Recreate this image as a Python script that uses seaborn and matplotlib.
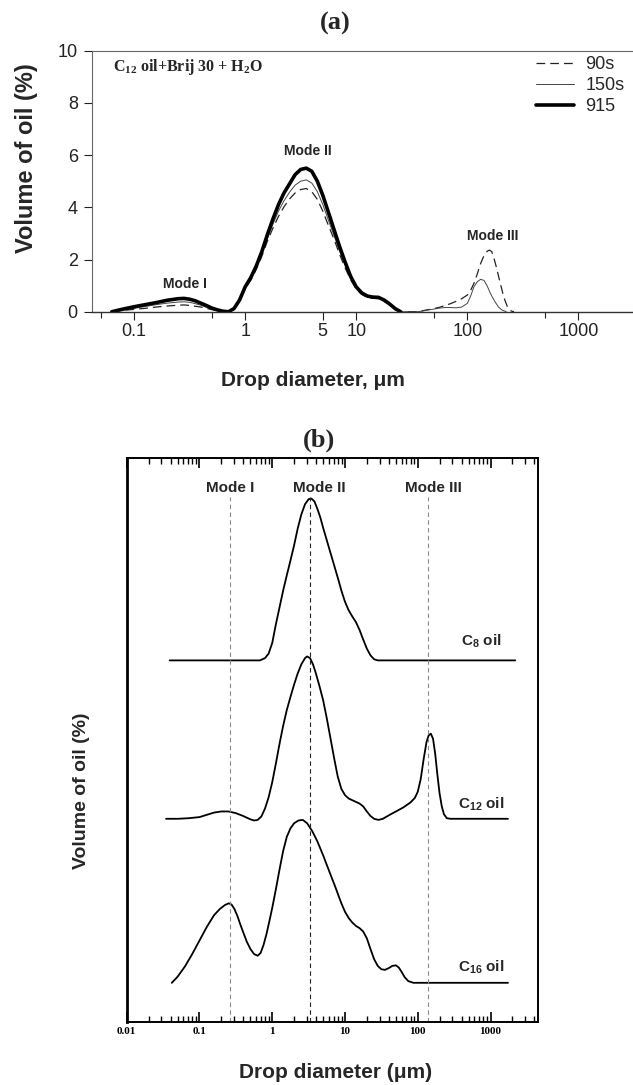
import numpy as np
import pandas as pd
import matplotlib
matplotlib.use("Agg")
import matplotlib.pyplot as plt
import seaborn as sns
from matplotlib.ticker import FixedLocator, FixedFormatter, NullFormatter, LogLocator

sns.set_theme(style="ticks")
plt.rcParams["font.family"] = ["Liberation Sans", "DejaVu Sans"]
plt.rcParams["mathtext.default"] = "regular"

# ---------------- Panel (a) data: log10(diameter, um) and volume (%) ----------------
logd_915 = [-1.2, -1.1, -1.0, -0.9, -0.8, -0.7, -0.6, -0.55, -0.5, -0.45, -0.4, -0.35, -0.3, -0.25,
            -0.2, -0.15, -0.1, -0.05,
            0.0, 0.05, 0.1, 0.15, 0.2, 0.25, 0.3, 0.35, 0.4, 0.45, 0.5, 0.55, 0.6, 0.65, 0.7, 0.75,
            0.8, 0.85, 0.9, 0.95, 1.0, 1.05, 1.1, 1.15, 1.2, 1.25, 1.3, 1.35, 1.4]
vol_915 = [0.0, 0.1, 0.19, 0.27, 0.35, 0.44, 0.5, 0.51, 0.48, 0.42, 0.33, 0.24, 0.14, 0.07,
           0.02, 0.0, 0.12, 0.45,
           0.95, 1.3, 1.75, 2.3, 2.95, 3.55, 4.1, 4.55, 4.9, 5.25, 5.45, 5.5, 5.38, 5.0, 4.45, 3.8,
           3.15, 2.5, 1.9, 1.35, 0.95, 0.72, 0.6, 0.56, 0.55, 0.45, 0.3, 0.12, 0.0]

logd_150 = [-1.2, -1.1, -1.0, -0.9, -0.8, -0.7, -0.6, -0.55, -0.5, -0.45, -0.4, -0.35, -0.3, -0.25,
            -0.2, -0.15, -0.1, -0.05,
            0.0, 0.05, 0.1, 0.15, 0.2, 0.25, 0.3, 0.35, 0.4, 0.45, 0.5, 0.55, 0.6, 0.65, 0.7, 0.75,
            0.8, 0.85, 0.9, 0.95, 1.0, 1.05, 1.1, 1.15, 1.2, 1.25, 1.3, 1.35, 1.4,
            1.5, 1.56, 1.6, 1.65, 1.7, 1.75, 1.8, 1.85, 1.9, 1.95, 2.0, 2.03, 2.06, 2.09, 2.12,
            2.15, 2.18, 2.2, 2.22, 2.25, 2.28, 2.31, 2.35]
vol_150 = [0.0, 0.07, 0.13, 0.2, 0.27, 0.33, 0.37, 0.38, 0.36, 0.31, 0.25, 0.17, 0.1, 0.05,
           0.01, 0.0, 0.1, 0.42,
           0.9, 1.25, 1.68, 2.2, 2.8, 3.35, 3.85, 4.25, 4.58, 4.85, 5.0, 5.05, 4.93, 4.6, 4.1, 3.5,
           2.92, 2.33, 1.78, 1.28, 0.9, 0.68, 0.57, 0.53, 0.52, 0.42, 0.28, 0.1, 0.0,
           0.0, 0.0, 0.03, 0.07, 0.1, 0.14, 0.16, 0.16, 0.15, 0.18, 0.32, 0.6, 0.96, 1.15, 1.24,
           1.2, 0.98, 0.78, 0.6, 0.38, 0.18, 0.07, 0.0]

logd_90 = [-1.2, -1.1, -1.0, -0.9, -0.8, -0.7, -0.6, -0.55, -0.5, -0.45, -0.4, -0.35, -0.3, -0.25,
           -0.2, -0.15, -0.1, -0.05,
           0.0, 0.05, 0.1, 0.15, 0.2, 0.25, 0.3, 0.35, 0.4, 0.45, 0.5, 0.55, 0.6, 0.65, 0.7, 0.75,
           0.8, 0.85, 0.9, 0.95, 1.0, 1.05, 1.1, 1.15, 1.2, 1.25, 1.3, 1.35, 1.4,
           1.5, 1.56, 1.6, 1.65, 1.7, 1.75, 1.8, 1.85, 1.9, 1.95, 2.0, 2.03, 2.06, 2.09, 2.12,
           2.15, 2.18, 2.2, 2.22, 2.24, 2.26, 2.28, 2.3, 2.32, 2.34, 2.36, 2.38, 2.4, 2.42]
vol_90 = [0.0, 0.05, 0.09, 0.13, 0.18, 0.22, 0.25, 0.26, 0.24, 0.21, 0.18, 0.13, 0.08, 0.04,
          0.01, 0.0, 0.1, 0.4,
          0.88, 1.2, 1.62, 2.12, 2.7, 3.2, 3.65, 4.02, 4.32, 4.55, 4.68, 4.72, 4.6, 4.3, 3.85, 3.3,
          2.78, 2.2, 1.68, 1.22, 0.87, 0.66, 0.55, 0.51, 0.5, 0.4, 0.27, 0.09, 0.0,
          0.0, 0.0, 0.04, 0.08, 0.12, 0.17, 0.24, 0.31, 0.4, 0.5, 0.64, 0.82, 1.09, 1.45, 1.85,
          2.15, 2.32, 2.36, 2.3, 2.05, 1.73, 1.38, 1.03, 0.7, 0.42, 0.2, 0.07, 0.02, 0.0]

series_a = ["90s", "150s", "915"]
ticks_a = [0.1, 1, 5, 10, 100, 1000]
ticklabels_a = ["0.1", "1", "5", "10", "100", "1000"]
minor_ticks_a = [0.05, 0.5, 50, 500]

# ---------------- Panel (b) data: log10(diameter, um) and offset volume (a.u.) ----------------
logd_c8 = [-1.41, -1.0, -0.5, -0.17, -0.1, -0.05, 0.0, 0.05, 0.1, 0.15, 0.2, 0.25, 0.3, 0.35,
           0.4, 0.45, 0.5, 0.54, 0.58, 0.62, 0.66, 0.7, 0.75, 0.8, 0.85, 0.9, 0.95, 1.0, 1.05,
           1.1, 1.15, 1.2, 1.25, 1.3, 1.35, 1.4, 1.45, 2.0, 3.34]
vol_c8 = [64.1, 64.1, 64.1, 64.1, 64.5, 65.3, 67.2, 70.5, 73.5, 76.5, 79.2, 81.8, 84.5, 87.5,
          90.0, 91.8, 92.7, 92.8, 92.3, 91.0, 89.5, 87.6, 85.4, 83.2, 81.0, 78.8, 76.5, 74.5, 73.0,
          71.9, 70.9, 69.5, 67.8, 66.2, 65.0, 64.3, 64.1, 64.1, 64.1]

logd_c12 = [-1.46, -1.3, -1.15, -1.0, -0.9, -0.8, -0.7, -0.6, -0.5, -0.4, -0.3, -0.25, -0.2,
            -0.15, -0.1, -0.05, 0.0, 0.05, 0.1, 0.15, 0.2, 0.25, 0.3, 0.35, 0.4, 0.45, 0.48,
            0.52, 0.56, 0.6, 0.65, 0.7, 0.75, 0.8, 0.85, 0.9, 0.95, 1.0, 1.05, 1.1, 1.15, 1.2,
            1.25, 1.3, 1.35, 1.4, 1.46, 1.52, 1.6, 1.7, 1.8, 1.9, 1.96, 2.0, 2.04, 2.08, 2.12,
            2.15, 2.18, 2.21, 2.24, 2.27, 2.3, 2.33, 2.36, 2.4, 2.45, 3.24]
vol_c12 = [36.0, 36.0, 36.1, 36.3, 36.7, 37.1, 37.3, 37.3, 37.0, 36.5, 35.9, 35.7, 35.8,
           36.4, 37.8, 39.8, 42.5, 45.8, 49.3, 52.5, 55.3, 57.6, 59.8, 61.8, 63.4, 64.5, 64.8,
           64.5, 63.4, 61.8, 59.5, 57.0, 53.8, 50.3, 46.8, 43.5, 41.3, 40.2, 39.6, 39.3, 39.0, 38.7,
           38.2, 37.3, 36.5, 36.0, 35.8, 36.0, 36.6, 37.3, 38.0, 38.9, 39.7, 40.8, 43.0, 46.5, 49.6,
           50.8, 51.1, 50.2, 47.5, 43.8, 40.5, 38.2, 36.8, 36.1, 36.0, 36.0]

logd_c16 = [-1.38, -1.3, -1.2, -1.1, -1.0, -0.9, -0.8, -0.72, -0.65, -0.6, -0.56, -0.52, -0.48,
            -0.44, -0.4, -0.35, -0.3, -0.25, -0.2, -0.16, -0.12, -0.08, -0.04, 0.0, 0.05, 0.1,
            0.15, 0.2, 0.25, 0.3, 0.36, 0.42, 0.48, 0.55, 0.62, 0.7, 0.78, 0.87, 0.95, 1.0, 1.05,
            1.1, 1.15, 1.2, 1.25, 1.3, 1.35, 1.4, 1.45, 1.5, 1.55, 1.6, 1.65, 1.7, 1.74, 1.78,
            1.82, 1.87, 1.94, 3.24]
vol_c16 = [6.9, 8.0, 9.8, 12.0, 14.4, 16.8, 18.9, 20.0, 20.7, 21.0, 20.8, 20.0, 18.8,
           17.3, 15.9, 14.2, 12.9, 12.0, 11.7, 12.2, 13.6, 15.5, 17.8, 20.2, 23.5, 27.0,
           30.3, 32.8, 34.3, 35.2, 35.7, 35.8, 35.2, 33.8, 32.0, 29.5, 26.8, 23.8, 21.0, 19.5, 18.4,
           17.6, 17.0, 16.6, 16.0, 14.8, 12.9, 11.1, 9.9, 9.3, 9.2, 9.5, 9.9, 10.0, 9.6, 8.8,
           7.9, 7.2, 6.9, 6.9]

oils_b = ["C$_8$ oil", "C$_{12}$ oil", "C$_{16}$ oil"]
mode_names = ["Mode I", "Mode II", "Mode III"]
mode_pos_b = [0.26, 3.28, 140]
ticks_b = [0.01, 0.1, 1, 10, 100, 1000]
ticklabels_b = ["0.01", "0.1", "1", "10", "100", "1000"]


def frame(logd, vol):
    return pd.DataFrame({"d": 10 ** np.asarray(logd, float), "v": np.asarray(vol, float)})


fig = plt.figure(figsize=(6.33, 10.85), dpi=100)

# ================= Panel (a) =================
axA = fig.add_axes([0.1449, 0.7127, 0.8551, 0.2406])
axA.set_xscale("log")
sns.lineplot(data=frame(logd_90, vol_90), x="d", y="v", ax=axA, sort=False, estimator=None,
             color="#222222", lw=0.9, linestyle=(0, (7, 4)), label=series_a[0])
sns.lineplot(data=frame(logd_150, vol_150), x="d", y="v", ax=axA, sort=False, estimator=None,
             color="#444444", lw=0.7, label=series_a[1])
sns.lineplot(data=frame(logd_915, vol_915), x="d", y="v", ax=axA, sort=False, estimator=None,
             color="black", lw=2.6, label=series_a[2])

axA.set_xlim(0.0416, 3100)
axA.set_ylim(0, 10)
axA.set_yticks([0, 2, 4, 6, 8, 10])
axA.xaxis.set_major_locator(FixedLocator(ticks_a))
axA.xaxis.set_major_formatter(FixedFormatter(ticklabels_a))
axA.xaxis.set_minor_locator(FixedLocator(minor_ticks_a))
axA.xaxis.set_minor_formatter(NullFormatter())
axA.tick_params(axis="both", which="major", labelsize=13, colors="#222222", width=0.8)
axA.tick_params(axis="x", which="major", length=6, pad=2)
axA.tick_params(axis="x", which="minor", length=4, width=0.8, colors="#222222")
axA.tick_params(axis="y", which="major", length=6, pad=4)
for s in ["left", "top"]:
    axA.spines[s].set_color("#666666")
    axA.spines[s].set_linewidth(0.8)
axA.spines["bottom"].set_color("#333333")
axA.spines["bottom"].set_linewidth(1.0)
axA.spines["right"].set_visible(False)

axA.set_xlabel("Drop diameter, μm", fontsize=15, fontweight="bold")
axA.xaxis.label.set_va("center")
axA.xaxis.set_label_coords(0.409, -0.262)
axA.set_ylabel("Volume of oil (%)", fontsize=17, fontweight="bold")
axA.yaxis.label.set_va("center")
axA.yaxis.set_label_coords(-0.121, 0.587)

axA.text(0.285, 1.06, "Mode I", fontsize=10, fontweight="bold", ha="center", va="center")
axA.text(3.68, 6.15, "Mode II", fontsize=10, fontweight="bold", ha="center", va="center")
axA.text(170, 2.9, "Mode III", fontsize=10, fontweight="bold", ha="center", va="center")
axA.text(0.039, 0.939, "C$_{12}$ oil+Brij 30 + H$_2$O", transform=axA.transAxes,
         family=["Liberation Serif", "DejaVu Serif"], fontsize=11.5, fontweight="bold",
         ha="left", va="center")
axA.text(0.449, 1.106, "(a)", transform=axA.transAxes, family=["Liberation Serif", "DejaVu Serif"],
         fontsize=19, fontweight="bold", ha="center", va="center")

axA.legend(loc="upper right", bbox_to_anchor=(0.984, 0.978), frameon=False, fontsize=13,
           handlelength=2.1, handletextpad=0.6, labelspacing=0.22, borderpad=0, borderaxespad=0)

# ================= Panel (b) =================
axB = fig.add_axes([0.2002, 0.05834, 0.6493, 0.5195])
axB.set_xscale("log")
for logd, vol in [(logd_c8, vol_c8), (logd_c12, vol_c12), (logd_c16, vol_c16)]:
    sns.lineplot(data=frame(logd, vol), x="d", y="v", ax=axB, sort=False, estimator=None,
                 color="black", lw=1.3)

axB.vlines(mode_pos_b, 0, 93.0, colors=["#8a8a8a", "#222222", "#8a8a8a"],
           linestyles=[(0, (4, 3))] * 3, lw=0.8)

axB.set_xlim(0.01, 4456)
axB.set_ylim(0, 100)
axB.set_yticks([])
axB.xaxis.set_major_locator(FixedLocator(ticks_b))
axB.xaxis.set_major_formatter(FixedFormatter(ticklabels_b))
axB.xaxis.set_minor_locator(LogLocator(base=10, subs=np.arange(2, 10), numticks=40))
axB.xaxis.set_minor_formatter(NullFormatter())
axB.tick_params(axis="x", which="both", direction="in", top=True, bottom=True, colors="black")
axB.tick_params(axis="x", which="major", length=7, width=1.2, pad=4)
axB.tick_params(axis="x", which="minor", length=4, width=1.0)
for lab in axB.get_xticklabels():
    lab.set_family(["Liberation Serif", "DejaVu Serif"])
    lab.set_fontweight("bold")
    lab.set_fontsize(8)
for s in ["left", "right", "top", "bottom"]:
    axB.spines[s].set_color("black")
    axB.spines[s].set_linewidth(1.4)
axB.spines["left"].set_linewidth(2.0)

axB.set_xlabel("Drop diameter (μm)", fontsize=15, fontweight="bold")
axB.xaxis.label.set_va("center")
axB.xaxis.set_label_coords(0.508, -0.091)
axB.set_ylabel("Volume of oil (%)", fontsize=14, fontweight="bold")
axB.yaxis.label.set_va("center")
axB.yaxis.set_label_coords(-0.1095, 0.41)

for name, xp in zip(mode_names, [0.268, 4.45, 165]):
    axB.text(xp, 94.7, name, fontsize=11, fontweight="bold", ha="center", va="center")
for name, yp in zip(oils_b, [67.4, 38.6, 9.6]):
    axB.text(740, yp, name, fontsize=11, fontweight="bold", ha="center", va="center")

axB.text(0.468, 1.032, "(b)", transform=axB.transAxes, family=["Liberation Serif", "DejaVu Serif"],
         fontsize=19, fontweight="bold", ha="center", va="center")

fig.savefig("out.png", dpi=100)
